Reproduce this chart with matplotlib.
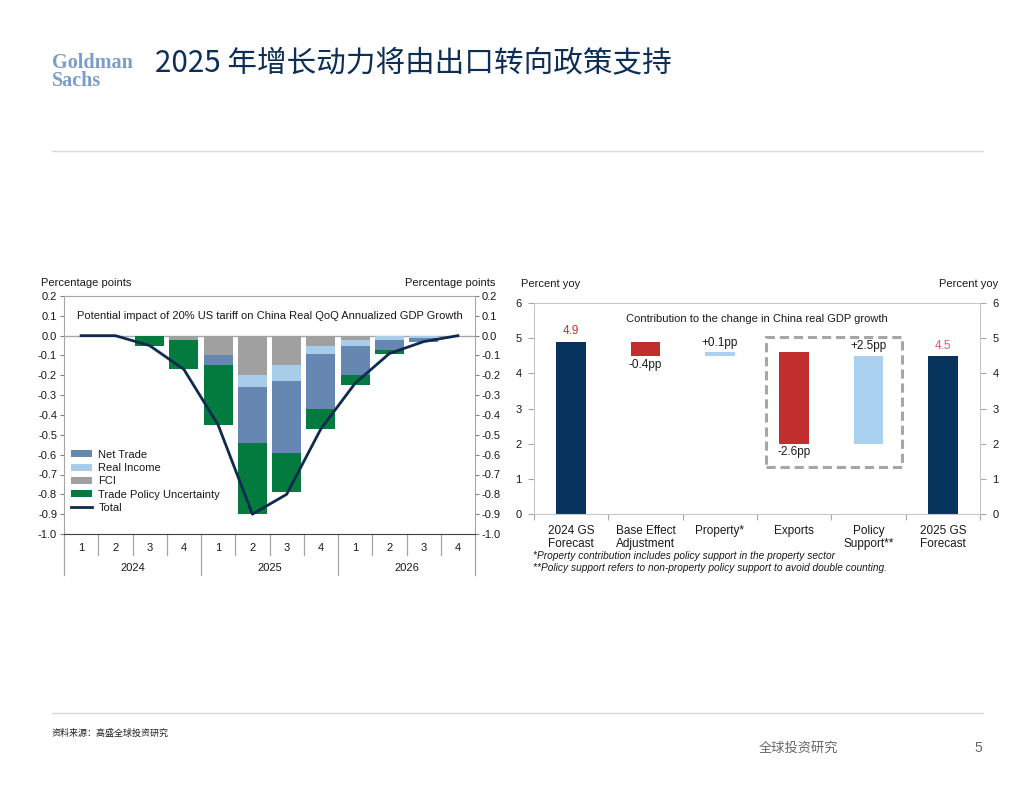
import numpy as np
import matplotlib
matplotlib.use("Agg")
import matplotlib.pyplot as plt
from matplotlib.patches import Rectangle
import matplotlib.transforms as mtransforms

plt.rcParams['font.family'] = ['Liberation Sans', 'Noto Sans CJK SC', 'DejaVu Sans']
plt.rcParams['axes.unicode_minus'] = False

# ---- data: left chart (tariff impact, pp) ----
quarters = ["1", "2", "3", "4"] * 3
years = ["2024", "2025", "2026"]
fci = [0, 0, 0, -0.02, -0.10, -0.20, -0.15, -0.05, -0.02, 0, 0, 0]
real_income = [0, 0, 0, 0, 0, -0.06, -0.08, -0.04, -0.03, -0.02, -0.01, 0]
net_trade = [0, 0, 0, 0, -0.05, -0.28, -0.36, -0.28, -0.15, -0.05, -0.02, 0]
tpu = [0, 0, -0.05, -0.15, -0.30, -0.36, -0.20, -0.10, -0.05, -0.02, 0, 0]
total = [0, 0, -0.05, -0.17, -0.45, -0.90, -0.80, -0.47, -0.24, -0.09, -0.03, 0]

# ---- data: right chart (waterfall, percent yoy) ----
wf_cats = ["2024 GS\nForecast", "Base Effect\nAdjustment", "Property*", "Exports",
           "Policy\nSupport**", "2025 GS\nForecast"]
start_val = 4.9
changes = [-0.4, 0.1, -2.6, 2.5]
end_val = 4.5
change_labels = ["-0.4pp", "+0.1pp", "-2.6pp", "+2.5pp"]

C_NET = "#6787B3"
C_RI = "#A8CDEB"
C_FCI = "#A0A0A0"
C_TPU = "#037A3E"
C_LINE = "#0E2A4C"
C_NAVY = "#06345C"
C_RED = "#C02F2E"
C_LBLUE = "#AAD1EF"
TXT = "#1A1A1A"
FS = 8

W, H = 1024, 791
fig = plt.figure(figsize=(W / 100, H / 100), dpi=100)


def px_axes(x0, y0, x1, y1):
    return fig.add_axes([x0 / W, 1 - y1 / H, (x1 - x0) / W, (y1 - y0) / H])


# ---------------- header / footer ----------------
fig.text(52 / W, 1 - 72 / H, "Goldman\nSachs", fontsize=14.5, fontweight="bold",
         family="Liberation Serif", color="#7C9DC9", va="center", ha="left",
         linespacing=0.85)
fig.text(155 / W, 1 - 64 / H, "2025 年增长动力将由出口转向政策支持", fontsize=21.3,
         family=["Noto Sans CJK SC", "DejaVu Sans"], color="#0D2F57", va="center")
fig.add_artist(plt.Line2D([52 / W, 983 / W], [1 - 151 / H] * 2, color="#D9D9D9", lw=1))
fig.add_artist(plt.Line2D([52 / W, 983 / W], [1 - 713 / H] * 2, color="#D9D9D9", lw=1))
src = fig.text(52 / W, 1 - 733 / H, "资料来源：高盛全球投资研究", fontsize=6.5,
               family=["Noto Sans CJK SC", "DejaVu Sans"], color="#222222", va="center")
fig.text(798 / W, 1 - 748 / H, "全球投资研究", fontsize=9.5,
         family=["Noto Sans CJK SC", "DejaVu Sans"], color="#666666", va="center", ha="center")
fig.text(978 / W, 1 - 748 / H, "5", fontsize=10, color="#666666", va="center", ha="center")

# ---------------- left chart ----------------
ax = px_axes(64, 296, 475, 534)
x = np.arange(len(total))
b1 = np.array(fci)
b2 = b1 + np.array(real_income)
b3 = b2 + np.array(net_trade)
bw = 0.84
h_fci = ax.bar(x, fci, bw, color=C_FCI, zorder=2)
h_ri = ax.bar(x, real_income, bw, bottom=b1, color=C_RI, zorder=2)
h_nt = ax.bar(x, net_trade, bw, bottom=b2, color=C_NET, zorder=2)
h_tpu = ax.bar(x, tpu, bw, bottom=b3, color=C_TPU, zorder=2)
h_tot, = ax.plot(x, total, color=C_LINE, lw=2, zorder=3)
ax.axhline(0, color="#A6A6A6", lw=1, zorder=1)

ax.set_xlim(-0.5, 11.5)
ax.set_ylim(-1.0, 0.2)
yt = np.round(np.arange(-1.0, 0.21, 0.1), 1)
ax.set_yticks(yt)
ax.set_yticklabels([f"{v + 0.0:.1f}" if abs(v) > 1e-9 else "0.0" for v in yt])
ax.tick_params(axis="y", which="both", left=True, right=True, labelleft=True,
               labelright=True, direction="out", length=3, width=0.8,
               colors="#808080", labelcolor=TXT, labelsize=FS, pad=2)
ax.set_xticks([])
for s in ["left", "right", "top"]:
    ax.spines[s].set_color("#A6A6A6")
ax.spines["bottom"].set_color("#404040")

ax.text(0.5, 0.915, "Potential impact of 20% US tariff on China Real QoQ Annualized GDP Growth",
        transform=ax.transAxes, ha="center", va="center", fontsize=FS, color=TXT)
ax.text(-0.055, 1.055, "Percentage points", transform=ax.transAxes, ha="left",
        va="center", fontsize=FS, color=TXT)
ax.text(1.05, 1.055, "Percentage points", transform=ax.transAxes, ha="right",
        va="center", fontsize=FS, color=TXT)

tr = mtransforms.blended_transform_factory(ax.transData, ax.transAxes)
for i, q in enumerate(quarters):
    ax.text(i, -0.059, q, transform=tr, ha="center", va="center", fontsize=FS, color=TXT)
for j, yr in enumerate(years):
    ax.text(4 * j + 1.5, -0.143, yr, transform=tr, ha="center", va="center",
            fontsize=FS, color=TXT)
for i in range(13):
    xb = i - 0.5
    low = -0.172 if i % 4 == 0 else -0.088
    ax.add_line(plt.Line2D([xb, xb], [0, low], transform=tr, color="#A6A6A6",
                           lw=0.9, clip_on=False))

leg = ax.legend([h_nt, h_ri, h_fci, h_tpu, h_tot],
                ["Net Trade", "Real Income", "FCI", "Trade Policy Uncertainty", "Total"],
                loc="lower left", bbox_to_anchor=(0.0, 0.06), frameon=False,
                fontsize=FS, handlelength=1.9, handleheight=0.6, labelspacing=0.3,
                handletextpad=0.6, borderaxespad=0.2)
for t in leg.get_texts():
    t.set_color(TXT)

# ---------------- right chart ----------------
ax2 = px_axes(534, 303, 980, 514)
xs = np.arange(len(wf_cats))
levels = [start_val]
for c in changes:
    levels.append(levels[-1] + c)
bottoms = [0] + [min(levels[i], levels[i + 1]) for i in range(len(changes))] + [0]
heights = [start_val] + [abs(c) for c in changes] + [end_val]
colors = [C_NAVY] + [C_RED if c < 0 else C_LBLUE for c in changes] + [C_NAVY]
ax2.bar(xs, heights, 0.4, bottom=bottoms, color=colors, zorder=2)

ax2.text(xs[0], start_val + 0.12, f"{start_val}", ha="center", va="bottom",
         fontsize=8.5, color=C_RED)
ax2.text(xs[-1], end_val + 0.12, f"{end_val}", ha="center", va="bottom",
         fontsize=8.5, color="#D0605C")
for i, (c, lab) in enumerate(zip(changes, change_labels)):
    xi = xs[i + 1]
    top = bottoms[i + 1] + heights[i + 1]
    if c < 0:
        ax2.text(xi, bottoms[i + 1] - 0.08, lab, ha="center", va="top", fontsize=8.5, color=TXT)
    else:
        ax2.text(xi, top + 0.1, lab, ha="center", va="bottom", fontsize=8.5, color=TXT)

ax2.add_patch(Rectangle((2.62, 1.34), 1.83, 3.69, fill=False, ls=(0, (3, 1.6)),
                        lw=2.2, edgecolor="#A6A6A6", zorder=3))

ax2.set_xlim(-0.5, 5.5)
ax2.set_ylim(0, 6)
ax2.set_yticks(range(0, 7))
ax2.tick_params(axis="y", left=True, right=True, labelleft=True, labelright=True,
                direction="out", length=4, width=0.8, colors="#A6A6A6",
                labelcolor=TXT, labelsize=FS, pad=5)
ax2.set_xticks(xs)
ax2.set_xticklabels(wf_cats, fontsize=8.5, color=TXT, linespacing=1.15)
ax2.tick_params(axis="x", which="major", length=0, pad=8)
ax2.set_xticks(np.arange(-0.5, 5.6, 1), minor=True)
ax2.tick_params(axis="x", which="minor", length=4, width=0.8, colors="#A6A6A6",
                direction="out")
for s in ["left", "right", "top", "bottom"]:
    ax2.spines[s].set_color("#C8C8C8")

ax2.text(0.5, 0.925, "Contribution to the change in China real GDP growth",
         transform=ax2.transAxes, ha="center", va="center", fontsize=FS, color=TXT)
ax2.text(-0.03, 1.09, "Percent yoy", transform=ax2.transAxes, ha="left",
         va="center", fontsize=FS, color=TXT)
ax2.text(1.04, 1.09, "Percent yoy", transform=ax2.transAxes, ha="right",
         va="center", fontsize=FS, color=TXT)

fig.text(533 / W, 1 - 556 / H,
         "*Property contribution includes policy support in the property sector",
         fontsize=7.3, style="italic", color=TXT, va="center")
fig.text(533 / W, 1 - 568 / H,
         "**Policy support refers to non-property policy support to avoid double counting.",
         fontsize=7.3, style="italic", color=TXT, va="center")

fig.savefig("out.png", dpi=100)
